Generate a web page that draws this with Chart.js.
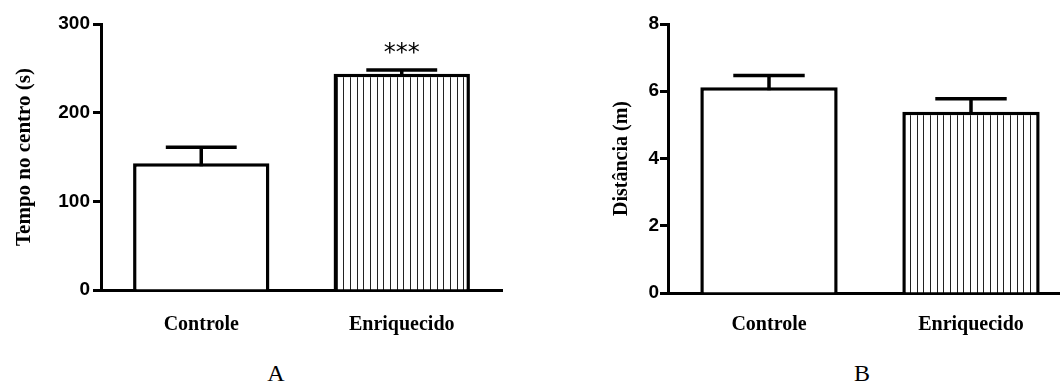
<!DOCTYPE html>
<html>
<head>
<meta charset="utf-8">
<script src="https://cdn.jsdelivr.net/npm/chart.js@4.4.0/dist/chart.umd.min.js"></script>
<style>
body { margin: 0; width: 1060px; height: 383px; overflow: hidden; background: #fff; position: relative; }
.box { position: absolute; top: 0; }
.painel { position: absolute; top: 361px; width: 40px; margin-left: -20px; text-align: center;
          font: 24px/24px "Liberation Serif", serif; color: #000; }
</style>
</head>
<body>
<div class="box" style="left:0"><canvas id="chartA" width="520" height="345"></canvas></div>
<div class="box" style="left:540px"><canvas id="chartB" width="540" height="345"></canvas></div>
<div class="painel" style="left:276px">A</div>
<div class="painel" style="left:862px">B</div>
<script>
var grupos = ['Controle', 'Enriquecido'];

// A - tempo no centro
var tempoMedia = [143, 244];
var tempoErro = [18, 4];
var tempoSig = ['', '***'];
var tempoTicks = [0, 300, 100];

// B - distancia
var distMedia = [6.12, 5.39];
var distErro = [0.35, 0.39];
var distSig = ['', ''];
var distTicks = [0, 8, 2];

function hachura(ctx) {
    var c = document.createElement('canvas');
    c.width = 20;
    c.height = 10;
    var g = c.getContext('2d');
    g.fillStyle = '#fff';
    g.fillRect(0, 0, 20, 10);
    g.fillStyle = '#222';
    [3, 10, 17].forEach(function(x) { g.fillRect(x, 0, 1, 10) });
    return ctx.createPattern(c, 'repeat');
}

// barras de erro (so para cima) + asteriscos
var errorBars = {
    id: 'errorBars',
    afterDatasetsDraw: function(chart, args, opts) {
        var ctx = chart.ctx;
        var y = chart.scales.y;
        var valores = chart.data.datasets[0].data;
        ctx.save();
        ctx.strokeStyle = '#000';
        ctx.fillStyle = '#000';
        ctx.lineWidth = 3.5;
        chart.getDatasetMeta(0).data.forEach(function(bar, i) {
            var topo = y.getPixelForValue(valores[i] + opts.erros[i]);
            var meia = bar.width * 0.26;
            ctx.beginPath();
            ctx.moveTo(bar.x, bar.y + 3);
            ctx.lineTo(bar.x, topo);
            ctx.moveTo(bar.x - meia, topo);
            ctx.lineTo(bar.x + meia, topo);
            ctx.stroke();
            if (opts.sig[i]) {
                ctx.font = '24px "DejaVu Sans"';
                ctx.textAlign = 'center';
                ctx.textBaseline = 'alphabetic';
                ctx.fillText(opts.sig[i], bar.x, topo - 10);
            }
        });
        ctx.restore();
    }
};

function grafico(id, medias, erros, sig, ticks, titulo, cfg) {
    var ctx = document.getElementById(id).getContext('2d');
    return new Chart(ctx, {
        type: 'bar',
        data: {
            labels: grupos,
            datasets: [{
                data: medias,
                backgroundColor: ['#fff', hachura(ctx)],
                borderColor: '#000',
                borderWidth: 3.5,
                borderSkipped: 'bottom',
                barPercentage: 0.68,
                categoryPercentage: 1
            }]
        },
        options: {
            responsive: false,
            animation: false,
            layout: { padding: { top: 24, right: cfg.padDir, left: 0, bottom: 0 } },
            plugins: {
                legend: { display: false },
                tooltip: { enabled: false },
                errorBars: { erros: erros, sig: sig }
            },
            scales: {
                x: {
                    ticks: { color: '#000', padding: cfg.padX, font: { family: 'Liberation Serif', size: 20, weight: 'bold' } },
                    grid: { display: false, drawTicks: false },
                    border: { display: true, color: '#000', width: 3 },
                    afterFit: function(s) { s.height = cfg.alturaX }
                },
                y: {
                    min: ticks[0],
                    max: ticks[1],
                    ticks: { stepSize: ticks[2], color: '#000', padding: cfg.padY, font: { family: 'Liberation Sans', size: 19, weight: 'bold' } },
                    grid: { drawOnChartArea: false, drawTicks: true, tickLength: 8, tickWidth: 3, tickColor: '#000' },
                    border: { display: true, color: '#000', width: 3 },
                    title: {
                        display: true,
                        text: titulo,
                        color: '#000',
                        padding: { top: cfg.padTitulo, bottom: 0 },
                        font: { family: 'Liberation Serif', size: cfg.tamTitulo, weight: 'bold', lineHeight: 1 }
                    },
                    afterFit: function(s) { s.width = cfg.larguraY }
                }
            }
        },
        plugins: [errorBars]
    });
}

grafico('chartA', tempoMedia, tempoErro, tempoSig, tempoTicks, 'Tempo no centro (s)',
    { larguraY: 101, padTitulo: 14, tamTitulo: 21, padY: 3, padDir: 18, alturaX: 55, padX: 23 });
grafico('chartB', distMedia, distErro, distSig, distTicks, 'Distância (m)',
    { larguraY: 128, padTitulo: 72, tamTitulo: 20, padY: 1, padDir: 8, alturaX: 52, padX: 20 });
</script>
</body>
</html>
